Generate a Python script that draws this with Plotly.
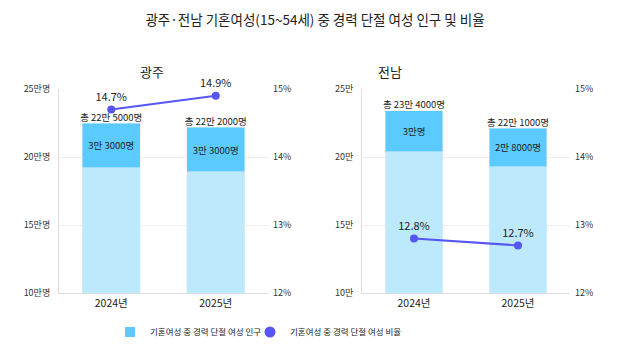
import plotly.graph_objects as go

years = ["2024년", "2025년"]
gj_total = [225000, 222000]
gj_break = [33000, 33000]
gj_rate = [14.7, 14.9]
gj_total_text = ["총 22만 5000명", "총 22만 2000명"]
gj_break_text = ["3만 3000명", "3만 3000명"]

jn_total = [234000, 221000]
jn_break = [30000, 28000]
jn_rate = [12.8, 12.7]
jn_total_text = ["총 23만 4000명", "총 22만 1000명"]
jn_break_text = ["3만명", "2만 8000명"]

left_ticks = [100000, 150000, 200000, 250000]
left_ticktext_gj = ["10만명", "15만명", "20만명", "25만명"]
left_ticktext_jn = ["10만", "15만", "20만", "25만"]
right_ticks = [12, 13, 14, 15]
right_ticktext = ["12%", "13%", "14%", "15%"]

LIGHT = "#BDE9FD"
DARK = "#5BCBFF"
LINE = "#5656F5"
FONT = "Noto Sans CJK KR"
TXT = "#222222"

fig = go.Figure()

def add_panel(total, brk, rate, ttext, btext, xa, ya, ya2):
    base = [t - b for t, b in zip(total, brk)]
    fig.add_trace(go.Bar(x=years, y=base, marker_color=LIGHT, width=0.555,
                         xaxis=xa, yaxis=ya, showlegend=False, hoverinfo="skip"))
    fig.add_trace(go.Bar(x=years, y=brk, marker_color=DARK, width=0.555,
                         text=btext, textposition="inside", insidetextanchor="middle",
                         textfont=dict(size=9.5, color=TXT, family=FONT),
                         xaxis=xa, yaxis=ya, showlegend=False, hoverinfo="skip"))
    fig.add_trace(go.Scatter(x=years, y=total, mode="text", text=ttext,
                             textposition="top center", cliponaxis=False,
                             textfont=dict(size=9.5, color=TXT, family=FONT),
                             xaxis=xa, yaxis=ya, showlegend=False, hoverinfo="skip"))
    fig.add_trace(go.Scatter(x=years, y=rate, mode="lines+markers+text",
                             text=[f"{v}%" for v in rate], textposition="top center",
                             cliponaxis=False,
                             textfont=dict(size=11, color=TXT, family=FONT),
                             line=dict(color=LINE, width=2), marker=dict(size=8, color=LINE),
                             xaxis=xa, yaxis=ya2, showlegend=False, hoverinfo="skip"))

add_panel(gj_total, gj_break, gj_rate, gj_total_text, gj_break_text, "x", "y", "y2")
add_panel(jn_total, jn_break, jn_rate, jn_total_text, jn_break_text, "x2", "y3", "y4")

# legend-only entries (one per legend so each can be placed)
fig.add_trace(go.Scatter(x=[None], y=[None], mode="markers", name="기혼여성 중 경력 단절 여성 인구",
                         marker=dict(symbol="square", size=10, color=DARK), legend="legend"))
fig.add_trace(go.Scatter(x=[None], y=[None], mode="markers", name="기혼여성 중 경력 단절 여성 비율",
                         marker=dict(symbol="circle", size=11, color=LINE), legend="legend2"))

W, H = 630, 355
ybot = 1 - 293 / H
ytop = 1 - 89 / H
xd1 = [59 / W, 268 / W]
xd2 = [362 / W, 570 / W]

common_x = dict(type="category", range=[-0.5, 1.5], showgrid=False, showline=True,
                linecolor="#DDDDDD", linewidth=1, ticks="", automargin=False,
                tickfont=dict(size=10.5, color=TXT, family=FONT), fixedrange=True)
common_y = dict(range=[100000, 250000], tickvals=left_ticks, showgrid=True,
                gridcolor="#EEEEEE", gridwidth=1, showline=True, linecolor="#DDDDDD",
                zeroline=False, tickfont=dict(size=9, color="#333333", family=FONT),
                ticks="", ticklabelstandoff=6, automargin=False)
common_y2 = dict(range=[12, 15], tickvals=right_ticks, ticktext=right_ticktext,
                 side="right", showgrid=False, zeroline=False, showline=False,
                 tickfont=dict(size=9, color="#333333", family=FONT), ticks="",
                 ticklabelstandoff=4, automargin=False)

legend_common = dict(orientation="h", xanchor="left", y=1 - 332 / H, yanchor="middle",
                     font=dict(size=8.5, color=TXT, family=FONT), itemwidth=30,
                     bgcolor="rgba(0,0,0,0)")

fig.update_layout(
    width=W, height=H,
    margin=dict(l=0, r=0, t=0, b=0, autoexpand=False),
    paper_bgcolor="white", plot_bgcolor="white",
    barmode="stack", bargap=0.445,
    font=dict(family=FONT, color=TXT),
    title=dict(text="광주·전남 기혼여성(15~54세) 중 경력 단절 여성 인구 및 비율",
               x=0.5, xanchor="center", y=1 - 20 / H, yanchor="middle",
               font=dict(size=13.5, color=TXT, family=FONT)),
    xaxis=dict(domain=xd1, anchor="y", **common_x),
    xaxis2=dict(domain=xd2, anchor="y3", **common_x),
    yaxis=dict(domain=[ybot, ytop], anchor="x", ticktext=left_ticktext_gj, **common_y),
    yaxis2=dict(overlaying="y", anchor="x", **common_y2),
    yaxis3=dict(domain=[ybot, ytop], anchor="x2", ticktext=left_ticktext_jn, **common_y),
    yaxis4=dict(overlaying="y3", anchor="x2", **common_y2),
    legend=dict(x=110 / W, **legend_common),
    legend2=dict(x=250 / W, **legend_common),
    annotations=[
        dict(text="광주", x=138 / W, y=1 - 60 / H, xref="paper", yref="paper",
             showarrow=False, font=dict(size=13, color=TXT, family=FONT)),
        dict(text="전남", x=390 / W, y=1 - 60 / H, xref="paper", yref="paper",
             showarrow=False, font=dict(size=13, color=TXT, family=FONT)),
    ],
)

fig.write_html("out.html", config={"displayModeBar": False},
               post_script="document.body.style.margin='0px';document.body.style.padding='0px';")
